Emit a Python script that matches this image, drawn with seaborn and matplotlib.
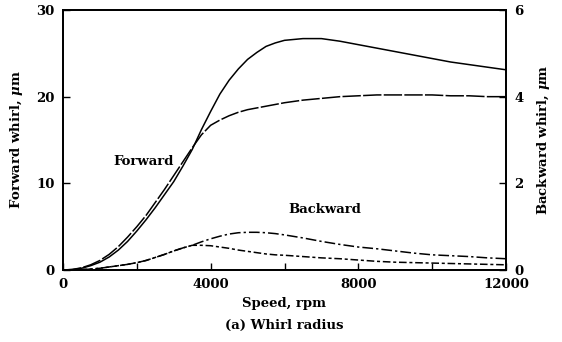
import numpy as np
import pandas as pd
import matplotlib
matplotlib.use("Agg")
import matplotlib.pyplot as plt
import seaborn as sns

# Rotor speed (rpm)
speed = [0, 250, 500, 750, 1000, 1250, 1500, 1750, 2000, 2250, 2500, 2750,
         3000, 3250, 3500, 3750, 4000, 4250, 4500, 4750, 5000, 5250, 5500,
         5750, 6000, 6500, 7000, 7500, 8000, 8500, 9000, 9500, 10000, 10500,
         11000, 11500, 12000]

# Forward whirl radius (um), left axis
fwd_solid = [0, 0.05, 0.2, 0.5, 0.9, 1.5, 2.3, 3.3, 4.5, 5.8, 7.2, 8.7,
             10.2, 12.0, 13.9, 16.2, 18.3, 20.3, 21.9, 23.2, 24.3, 25.1, 25.8,
             26.2, 26.5, 26.7, 26.7, 26.4, 26.0, 25.6, 25.2, 24.8, 24.4, 24.0,
             23.7, 23.4, 23.1]
fwd_dashed = [0, 0.06, 0.25, 0.6, 1.1, 1.8, 2.7, 3.8, 5.0, 6.3, 7.8, 9.3,
              10.9, 12.5, 14.1, 15.6, 16.7, 17.3, 17.8, 18.2, 18.5, 18.7, 18.9,
              19.1, 19.3, 19.6, 19.8, 20.0, 20.1, 20.2, 20.2, 20.2, 20.2, 20.1,
              20.1, 20.0, 20.0]

# Backward whirl radius (um), right axis
bwd_upper = [0, 0.0, 0.01, 0.02, 0.04, 0.07, 0.10, 0.13, 0.17, 0.22, 0.29,
             0.36, 0.44, 0.51, 0.57, 0.65, 0.72, 0.78, 0.83, 0.86, 0.87, 0.87,
             0.86, 0.84, 0.81, 0.74, 0.66, 0.59, 0.53, 0.49, 0.44, 0.39, 0.35,
             0.33, 0.31, 0.28, 0.26]
bwd_lower = [0, 0.0, 0.01, 0.02, 0.04, 0.07, 0.10, 0.13, 0.17, 0.22, 0.29,
             0.36, 0.44, 0.51, 0.57, 0.57, 0.56, 0.53, 0.50, 0.46, 0.43, 0.40,
             0.37, 0.35, 0.34, 0.31, 0.28, 0.26, 0.23, 0.20, 0.18, 0.17, 0.16,
             0.15, 0.14, 0.13, 0.12]

x_ticks = [0, 4000, 8000, 12000]
x_minor = [2000, 6000, 10000]
left_ticks = [0, 10, 20, 30]
right_ticks = [0, 2, 4, 6]

sns.set_style("ticks")
plt.rcParams["font.family"] = ["DejaVu Serif"]
plt.rcParams["font.weight"] = "bold"
plt.rcParams["mathtext.fontset"] = "dejavuserif"
for key in ("text.color", "axes.labelcolor", "xtick.color", "ytick.color",
            "axes.edgecolor"):
    plt.rcParams[key] = "black"

df = pd.DataFrame({"speed": speed, "fs": fwd_solid, "fd": fwd_dashed,
                   "bu": bwd_upper, "bl": bwd_lower})

fig = plt.figure(figsize=(5.62, 3.42), dpi=100)
ax = fig.add_axes([63 / 562, 1 - 270 / 342, (506 - 63) / 562, 260 / 342])
ax2 = ax.twinx()

lw = 1.1
sns.lineplot(data=df, x="speed", y="fs", ax=ax, color="black", lw=lw)
sns.lineplot(data=df, x="speed", y="fd", ax=ax, color="black", lw=lw)
ax.lines[-1].set_dashes((12, 1.5))
sns.lineplot(data=df, x="speed", y="bu", ax=ax2, color="black", lw=lw)
ax2.lines[-1].set_dashes((7, 2, 1.5, 2))
sns.lineplot(data=df, x="speed", y="bl", ax=ax2, color="black", lw=lw)
ax2.lines[-1].set_dashes((5, 1.8, 2, 1.8))

ax.set_xlim(0, 12000)
ax.set_ylim(0, 30)
ax2.set_ylim(0, 6)
ax.set_xticks(x_ticks)
ax.set_xticks(x_minor, minor=True)
ax.set_yticks(left_ticks)
ax2.set_yticks(right_ticks)

fs = 9.5
for a in (ax, ax2):
    a.tick_params(which="both", direction="in", length=5, width=1,
                  labelsize=fs, pad=6, colors="black")
    for s in a.spines.values():
        s.set_linewidth(1.3)
        s.set_visible(True)
        s.set_color("black")
ax.tick_params(axis="x", which="minor", labelbottom=False)

ax.set_xlabel("Speed, rpm", fontsize=fs, fontweight="bold", labelpad=4)
ax.set_ylabel(r"Forward whirl, $\mu$m", fontsize=fs, fontweight="bold", labelpad=8)
ax2.set_ylabel(r"Backward whirl, $\mu$m", fontsize=fs, fontweight="bold", labelpad=8)

ax.text(2180, 12.5, "Forward", fontsize=fs, fontweight="bold",
        ha="center", va="center")
ax2.text(7100, 1.4, "Backward", fontsize=fs, fontweight="bold",
         ha="center", va="center")
fig.text(284 / 562, 1 - 325 / 342, "(a) Whirl radius", fontsize=fs,
         fontweight="bold", ha="center", va="center")

fig.savefig("out.png", dpi=100)
